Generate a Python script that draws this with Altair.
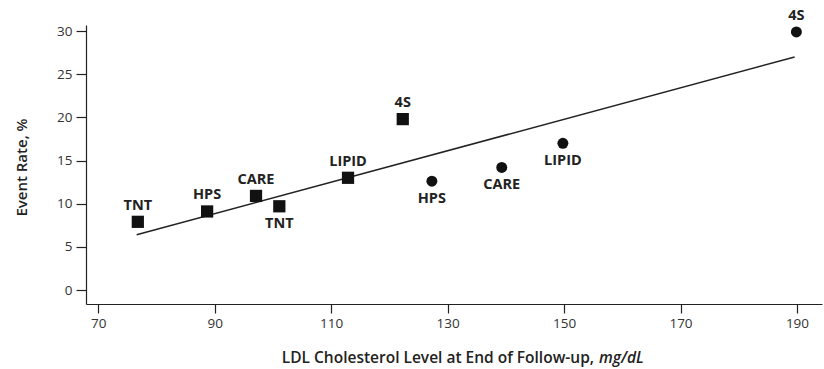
import altair as alt
import pandas as pd

# ---- data ----
trials = ["TNT", "HPS", "CARE", "TNT", "LIPID", "4S", "HPS", "CARE", "LIPID", "4S"]
ldl = [76.8, 88.7, 97.1, 101.1, 112.9, 122.3, 127.3, 139.3, 149.8, 189.9]
event_rate = [7.9, 9.1, 10.9, 9.7, 13.0, 19.8, 12.6, 14.2, 17.0, 29.9]
arm = ["statin"] * 6 + ["placebo"] * 4
label_side = ["above", "above", "above", "below", "above", "above",
              "below", "below", "below", "above"]

fit_ldl = [76.6, 189.6]
fit_rate = [6.4, 27.0]

x_ticks = [70, 90, 110, 130, 150, 170, 190]
y_ticks = [0, 5, 10, 15, 20, 25, 30]

x_title_main = ["LDL Cholesterol Level at End of Follow-up,"]
x_title_unit = ["mg/dL"]

df = pd.DataFrame({"trial": trials, "ldl": ldl, "rate": event_rate,
                   "arm": arm, "side": label_side})
fit = pd.DataFrame({"ldl": fit_ldl, "rate": fit_rate})

FONT = "Open Sans"

xscale = alt.Scale(domain=[67.9, 194.3], nice=False, zero=False)
yscale = alt.Scale(domain=[-1.62, 30.7], nice=False, zero=False)

xenc = alt.X("ldl:Q", scale=xscale,
             axis=alt.Axis(values=x_ticks, title=None,
                           grid=False, tickSize=9, labelPadding=3))
yenc = alt.Y("rate:Q", scale=yscale,
             axis=alt.Axis(values=y_ticks, title="Event Rate, %", grid=False,
                           tickSize=10, labelPadding=4, titleFontSize=15,
                           titleX=-57, titleY=142, titleBaseline="bottom"))

line = alt.Chart(fit).mark_line(color="#222", strokeWidth=1.5).encode(x=xenc, y=yenc)

squares = alt.Chart(df).transform_filter(alt.datum.arm == "statin").mark_point(
    shape="square", filled=True, color="#111", size=150, opacity=1).encode(x=xenc, y=yenc)
circles = alt.Chart(df).transform_filter(alt.datum.arm == "placebo").mark_point(
    shape="circle", filled=True, color="#111", size=120, opacity=1).encode(x=xenc, y=yenc)

txt = dict(font=FONT, fontSize=14.5, fontWeight="bold", color="#222", baseline="middle")
above = alt.Chart(df).transform_filter(alt.datum.side == "above").mark_text(
    dy=-16, **txt).encode(x=xenc, y=yenc, text="trial:N")
below = alt.Chart(df).transform_filter(alt.datum.side == "below").mark_text(
    dy=18, **txt).encode(x=xenc, y=yenc, text="trial:N")

# x-axis title in two parts (unit in italics), placed just below the axis
title_style = dict(font=FONT, fontSize=15.5, fontWeight=600, color="#222",
                   baseline="alphabetic")
title_main = alt.Chart(pd.DataFrame({"t": x_title_main})).mark_text(
    align="right", **title_style).encode(
    text="t:N", x=alt.value(508), y=alt.value(338))
title_unit = alt.Chart(pd.DataFrame({"t": x_title_unit})).mark_text(
    align="left", fontStyle="italic", **title_style).encode(
    text="t:N", x=alt.value(513), y=alt.value(338))

chart = alt.layer(line, squares, circles, above, below, title_main, title_unit).properties(
    width=736, height=279,
    background="white",
    autosize=alt.AutoSizeParams(type="none"),
    padding={"left": 86, "top": 25, "right": 2, "bottom": 65},
).configure_view(stroke=None).configure_axis(
    domainColor="#222", domainWidth=1.2, tickColor="#222", tickWidth=1.2,
    labelFont=FONT, labelFontSize=13.5, labelColor="#333",
    titleFont=FONT, titleFontSize=15, titleFontWeight=600, titleColor="#222",
)

chart.save("out.html", embed_options={"renderer": "svg", "actions": False})
